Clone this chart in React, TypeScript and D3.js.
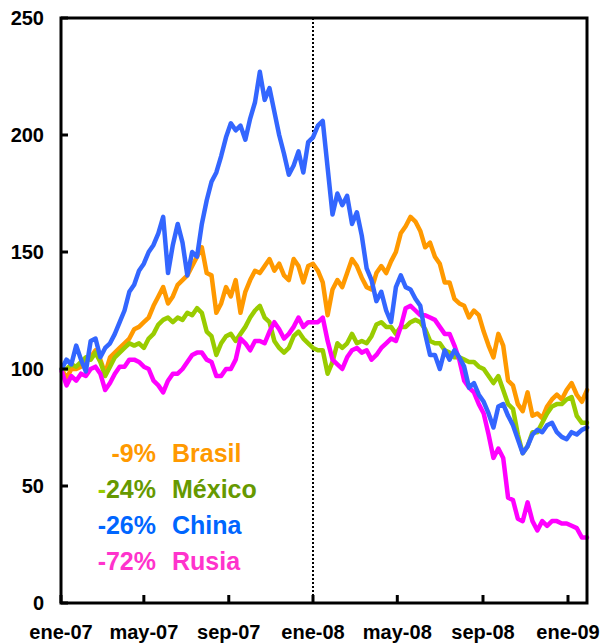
import React from "react";
import * as d3 from "d3";

// Weekly observations starting 2007-01-02 (every 7 days)
const startDate = "2007-01-02";

const brasil = [100,96,100,100,101,103,105,108,104,98,105,107,109,111,113,117,118,120,122,127,131,135,128,131,136,138,140,144,148,152,141,140,124,128,135,131,138,124,133,138,142,141,144,147,142,145,140,138,147,144,137,144,145,142,137,123,134,138,135,141,147,144,139,135,134,141,144,141,146,150,158,161,165,163,159,152,154,148,145,137,137,130,128,127,122,125,123,116,110,105,115,110,95,93,85,82,90,80,81,79,84,87,89,87,91,94,89,86,91];
const mexico = [100,100,102,101,103,105,104,107,103,97,101,105,107,109,111,110,111,109,113,115,119,121,122,120,122,121,124,123,126,124,116,114,106,111,114,115,112,115,118,122,125,127,122,120,112,109,107,109,114,116,113,111,109,108,108,98,103,111,109,111,115,111,112,111,114,119,120,118,118,115,118,118,120,121,120,117,112,111,111,108,107,105,105,104,103,103,101,100,97,94,97,91,85,83,72,64,67,73,73,77,81,84,85,85,87,88,80,77,77];
const china = [100,104,102,110,104,99,112,113,105,109,111,115,120,125,133,136,142,145,150,153,158,165,141,153,162,154,140,150,148,162,172,180,184,191,199,205,202,204,198,207,214,227,215,220,210,200,192,183,187,193,184,197,199,204,206,186,166,175,170,174,162,167,157,143,138,129,133,125,120,135,140,135,134,130,127,115,106,106,100,108,104,108,105,101,92,94,89,86,81,75,84,85,80,76,70,64,67,72,74,73,76,77,73,71,70,73,72,74,75];
const rusia = [99,93,97,95,98,97,100,101,98,91,94,98,101,101,104,104,103,101,100,95,93,90,95,98,98,100,103,106,107,107,104,103,97,97,100,100,104,113,111,108,112,112,111,116,120,117,113,115,118,122,118,120,120,120,122,112,104,102,100,105,108,109,107,108,104,106,109,111,113,112,118,126,127,125,123,123,122,121,118,115,115,110,104,95,92,90,85,81,72,62,66,62,45,44,36,35,43,35,31,35,33,35,35,34,34,33,32,28,28];

const seriesNames = ["Brasil", "México", "China", "Rusia"];
const seriesValues = [brasil, mexico, china, rusia];
const seriesColors = ["#ff9900", "#99cc00", "#3366ff", "#ff00ff"];
const drawOrder = [0, 1, 3, 2];

const legendPct = ["-9%", "-24%", "-26%", "-72%"];
const legendColors = ["#ff9900", "#669900", "#0066ff", "#ff33cc"];

const yTicks = [0, 50, 100, 150, 200, 250];
const xTickDates = ["2007-01-01", "2007-05-01", "2007-09-01", "2008-01-01", "2008-05-01", "2008-09-01", "2009-01-01"];
const xTickLabels = ["ene-07", "may-07", "sep-07", "ene-08", "may-08", "sep-08", "ene-09"];
const markerDate = "2008-01-01";

const W = 601, H = 644;
const L = 61, R = 587, T = 18, B = 603;

export default function App() {
  const parse = (s: string) => new Date(s + "T00:00:00Z");
  const start = parse(startDate);
  const dates = brasil.map((_, i) => d3.utcDay.offset(start, 7 * i));

  const x = d3.scaleUtc()
    .domain([parse("2007-01-01"), parse("2008-01-01"), parse("2009-01-01"), dates[dates.length - 1]])
    .range([L, 313, 568, R]);
  const y = d3.scaleLinear().domain([0, 250]).range([B, T]);

  const line = d3.line<number>()
    .x((_, i) => x(dates[i]))
    .y((v) => y(v));

  const font = "'Liberation Sans', Arial, sans-serif";

  return (
    <svg width={W} height={H} style={{ position: "absolute", left: 0, top: 0, background: "#fff" }} fontFamily={font}>
      <rect x={0} y={0} width={W} height={H} fill="#fff" />
      {/* dotted marker */}
      <line x1={x(parse(markerDate))} x2={x(parse(markerDate))} y1={T} y2={B} stroke="#000" strokeWidth={2} strokeDasharray="2,2" />
      {/* series */}
      {drawOrder.map((si) => (
        <path key={si} d={line(seriesValues[si]) || ""} fill="none" stroke={seriesColors[si]} strokeWidth={4.5} strokeLinejoin="round" strokeLinecap="round" />
      ))}
      {/* frame */}
      <rect x={L} y={T} width={R - L} height={B - T} fill="none" stroke="#000" strokeWidth={3} />
      {/* y ticks */}
      {yTicks.map((t) => (
        <g key={t}>
          <line x1={L} x2={L + 7} y1={y(t)} y2={y(t)} stroke="#000" strokeWidth={3} />
          <text x={44} y={y(t)} dy="0.35em" textAnchor="end" fontSize={20} fontWeight="bold" fill="#000">{t}</text>
        </g>
      ))}
      {/* x ticks */}
      {xTickDates.map((d, i) => {
        const px = x(parse(d));
        return (
          <g key={d}>
            <line x1={px} x2={px} y1={B} y2={B - 8} stroke="#000" strokeWidth={3} />
            <text x={px} y={639} textAnchor="middle" fontSize={20} fontWeight="bold" fill="#000">{xTickLabels[i]}</text>
          </g>
        );
      })}
      {/* legend */}
      {seriesNames.map((n, i) => (
        <g key={n} fontSize={25} fontWeight="bold">
          <text x={156} y={462 + i * 36} textAnchor="end" fill={legendColors[i]}>
            {i === 1 ? (<><tspan fill="#99cc00">-</tspan>{legendPct[i].slice(1)}</>) : legendPct[i]}
          </text>
          <text x={172} y={462 + i * 36} fill={legendColors[i]}>{n}</text>
        </g>
      ))}
    </svg>
  );
}
